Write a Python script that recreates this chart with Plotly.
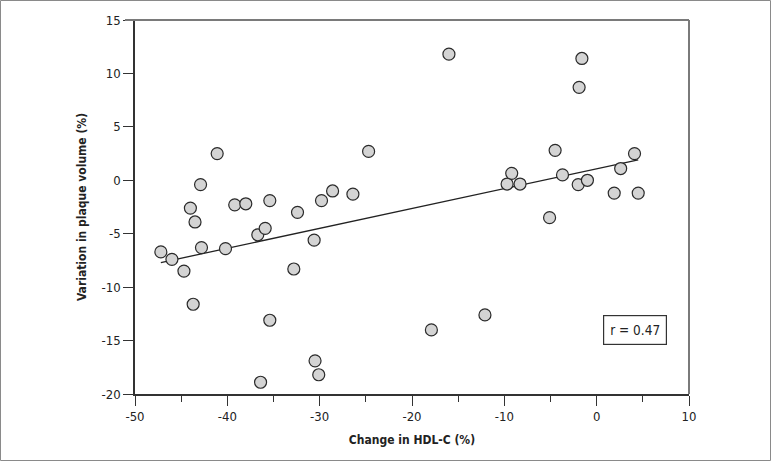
import numpy as np
import plotly.graph_objects as go

# variação do HDL-C (%) vs variação do volume de placa (%)
hdl_change = [-47.2, -46.0, -44.7, -43.7, -44.0, -43.5, -42.9, -42.8, -41.1, -40.2,
              -39.2, -38.0, -36.7, -35.9, -35.4, -35.4, -36.4, -32.8, -32.4, -30.6,
              -30.5, -30.1, -29.8, -28.6, -26.4, -24.7, -17.9, -16.0, -12.1, -9.7,
              -9.2, -8.3, -5.1, -4.5, -3.7, -2.0, -1.9, -1.6, -1.0, 1.9,
              2.6, 4.1, 4.5]
plaque_change = [-6.7, -7.4, -8.5, -11.6, -2.6, -3.9, -0.4, -6.3, 2.5, -6.4,
                 -2.3, -2.2, -5.1, -4.5, -1.9, -13.1, -18.9, -8.3, -3.0, -5.6,
                 -16.9, -18.2, -1.9, -1.0, -1.3, 2.7, -14.0, 11.8, -12.6, -0.35,
                 0.65, -0.35, -3.5, 2.8, 0.5, -0.4, 8.7, 11.4, 0.0, -1.2,
                 1.1, 2.5, -1.2]
x_ticks = [-50, -40, -30, -20, -10, 0, 10]
y_ticks = [-20, -15, -10, -5, 0, 5, 10, 15]
r_label = "r = 0.47"

W, H = 771, 461
L, R, T, B = 135, 82, 20, 67
FONT = "DejaVu Sans Condensed, Liberation Sans Narrow, Arial Narrow, sans-serif"

fig = go.Figure()

# reta de regressão
slope, icpt = np.polyfit(hdl_change, plaque_change, 1)
fx = np.array([min(hdl_change), max(hdl_change)])
fig.add_trace(go.Scatter(x=fx, y=slope * fx + icpt, mode="lines",
                         line=dict(color="#222222", width=1.3), hoverinfo="skip"))

fig.add_trace(go.Scatter(
    x=hdl_change, y=plaque_change, mode="markers",
    marker=dict(size=12, color="#d4d4d4", line=dict(color="#2a2a2a", width=1.2)),
))

# caixa do r
fig.add_annotation(x=4.2, y=-14.05, xref="x", yref="y", text=r_label, showarrow=False,
                   font=dict(size=13.5, color="#222222", family=FONT),
                   bordercolor="#333333", borderwidth=1.2, borderpad=6, bgcolor="white")

# moldura cinza (topo/direita) e borda externa
pw, ph = W - L - R, H - T - B
fig.add_shape(type="line", xref="paper", yref="paper", x0=-10 / pw, x1=1, y0=1, y1=1,
              line=dict(color="#7a7a7a", width=2))
fig.add_shape(type="line", xref="paper", yref="paper", x0=1, x1=1, y0=0, y1=1,
              line=dict(color="#7a7a7a", width=2))
fig.add_shape(type="rect", xref="paper", yref="paper",
              x0=(0.5 - L) / pw, x1=(W - 0.5 - L) / pw,
              y0=-(H - 0.5 - T - ph) / ph, y1=1 + (T - 0.5) / ph,
              line=dict(color="#8a8a8a", width=1))

tickfont = dict(size=13, color="#222222", family=FONT)
titlefont = dict(size=12, color="#222222", family=FONT)

fig.update_xaxes(range=[-50, 10], tickvals=x_ticks, ticktext=[str(v) for v in x_ticks],
                 showgrid=False, zeroline=False,
                 showline=True, linecolor="#333333", linewidth=1.5,
                 ticks="outside", ticklen=10, tickwidth=1.3, tickcolor="#333333",
                 minor=dict(dtick=5, tick0=-50, ticks="outside", ticklen=6, tickwidth=1.3,
                            tickcolor="#333333"),
                 tickfont=tickfont,
                 title=dict(text="<b>Change in HDL-C (%)</b>", standoff=12, font=titlefont))
fig.update_yaxes(range=[-20, 15], tickvals=y_ticks, ticktext=[str(v) for v in y_ticks],
                 showgrid=False, zeroline=False,
                 showline=True, linecolor="#333333", linewidth=1.5,
                 ticks="outside", ticklen=10, tickwidth=1.3, tickcolor="#333333",
                 tickfont=tickfont,
                 title=dict(text="<b>Variation in plaque volume (%)</b>", standoff=12,
                            font=titlefont))

fig.update_layout(width=W, height=H, margin=dict(l=L, r=R, t=T, b=B),
                  plot_bgcolor="white", paper_bgcolor="white", showlegend=False)

fig.write_html("out.html", config={"displayModeBar": False},
               post_script="document.body.style.margin='0';")
